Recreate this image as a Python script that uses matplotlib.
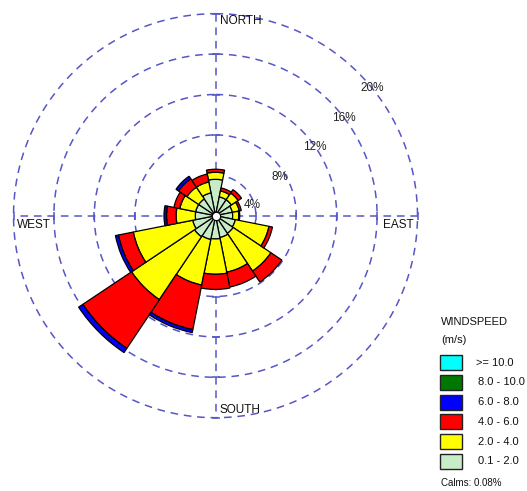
import numpy as np
import matplotlib
matplotlib.use("Agg")
import matplotlib.pyplot as plt
from matplotlib.patches import Rectangle

plt.rcParams['font.family'] = ['Liberation Sans', 'DejaVu Sans']

# Sixteen compass sectors, clockwise from north
directions = ['N', 'NNE', 'NE', 'ENE', 'E', 'ESE', 'SE', 'SSE',
              'S', 'SSW', 'SW', 'WSW', 'W', 'WNW', 'NW', 'NNW']

# Frequency (%) of each wind speed class per sector
speed_01_20 = [3.6, 1.9, 1.9, 1.7, 1.7, 2.0, 2.1, 2.2, 2.3, 2.4, 2.5, 2.3, 2.0, 2.0, 2.0, 2.3]
speed_20_40 = [0.7, 0.6, 0.8, 0.7, 0.6, 3.4, 4.5, 3.5, 3.5, 4.6, 7.5, 6.0, 1.9, 1.6, 1.4, 1.1]
speed_40_60 = [0.3, 0.3, 0.4, 0.2, 0.1, 0.35, 1.3, 1.5, 1.5, 4.5, 5.8, 1.5, 0.95, 0.6, 1.0, 0.8]
speed_60_80 = [0.0, 0.0, 0.0, 0.0, 0.0, 0.0, 0.0, 0.0, 0.0, 0.3, 0.5, 0.3, 0.25, 0.0, 0.3, 0.0]
speed_80_100 = [0.0] * 16
speed_100_up = [0.0] * 16

classes = [speed_01_20, speed_20_40, speed_40_60, speed_60_80, speed_80_100, speed_100_up]
class_colors = ['#c8ecc8', '#ffff00', '#ff0000', '#0000ff', '#007800', '#00ffff']
class_labels = ['0.1 - 2.0', '2.0 - 4.0', '4.0 - 6.0', '6.0 - 8.0', '8.0 - 10.0', '>= 10.0']

ring_values = [4, 8, 12, 16, 20]
ring_labels = ['4%', '8%', '12%', '16%', '20%']
calms_pct = 0.08

W, H = 527, 491
fig = plt.figure(figsize=(W / 100, H / 100), dpi=100)

# polar rose: centre (215.5, 215.7) px, 20 % ring = 202 px
cx, cy, R = 215.5, 215.7, 202.0
ax = fig.add_axes([(cx - R) / W, 1 - (cy + R) / H, 2 * R / W, 2 * R / H],
                  projection='polar')
ax.set_theta_zero_location('N')
ax.set_theta_direction(-1)
ax.set_ylim(0, 20)
ax.set_axis_off()

grid_color = '#5656c6'
dash = (0, (5.0, 3.8))
t = np.linspace(0, 2 * np.pi, 721)
for rv in ring_values:
    ax.plot(t, np.full_like(t, rv), color=grid_color, lw=1.1, ls=dash, zorder=1,
            clip_on=False)
for ang in (0, np.pi / 2):
    ax.plot([ang, ang + np.pi], [20, 20], color=grid_color, lw=1.1, ls=dash, zorder=1,
            clip_on=False)
rv = np.array(ring_values, dtype=float)
for ang, mk in ((0, '_'), (np.pi, '_'), (np.pi / 2, '|'), (3 * np.pi / 2, '|')):
    ax.plot(np.full_like(rv, ang), rv, ls='none', marker=mk, ms=6, mew=1.1,
            color=grid_color, zorder=1, clip_on=False)

theta = np.radians(np.arange(16) * 22.5)
width = np.radians(22.5)
bottom = np.zeros(16)
for vals, col in zip(classes, class_colors):
    vals = np.asarray(vals)
    m = vals > 0
    if m.any():
        ax.bar(theta[m], vals[m], width=width, bottom=bottom[m], color=col,
               edgecolor='black', linewidth=0.9, zorder=3)
    bottom = bottom + vals

ax.plot([0], [0], marker='o', ms=6, mfc='white', mec='black', mew=0.8, zorder=5)

# ring labels
label_pos = [(73.6, 3.77), (59.0, 7.45), (55.4, 11.97), (52.8, 15.98), (50.8, 20.0)]
for (deg, r), txt in zip(label_pos, ring_labels):
    ax.text(np.radians(deg), r, txt, fontsize=8.5, ha='center', va='center',
            color='#222222', zorder=6)

# overlay in pixel coordinates for compass names and legend
ov = fig.add_axes([0, 0, 1, 1], facecolor='none')
ov.set_xlim(0, W)
ov.set_ylim(H, 0)
ov.set_axis_off()

fs = 8.5
ov.text(220, 21, 'NORTH', fontsize=fs, ha='left', va='center', color='#111111')
ov.text(220, 410, 'SOUTH', fontsize=fs, ha='left', va='center', color='#111111')
ov.text(17, 225, 'WEST', fontsize=fs, ha='left', va='center', color='#111111')
ov.text(383, 225, 'EAST', fontsize=fs, ha='left', va='center', color='#111111')

ov.text(441, 322, 'WINDSPEED', fontsize=8, ha='left', va='center', color='#111111')
ov.text(441, 340, '(m/s)', fontsize=8, ha='left', va='center', color='#111111')
for i, (col, lab) in enumerate(zip(class_colors[::-1], class_labels[::-1])):
    y0 = 355 + i * 19.8
    ov.add_patch(Rectangle((440, y0), 21.5, 15, facecolor=col, edgecolor='#222222',
                           lw=1.0))
    ov.text(476 if i == 0 else 478, y0 + 7.5, lab, fontsize=8, ha='left',
            va='center', color='#111111')
ov.text(441, 483, f'Calms: {calms_pct:.2f}%', fontsize=7, ha='left', va='center',
        color='#111111')

fig.savefig('out.png', dpi=100)
